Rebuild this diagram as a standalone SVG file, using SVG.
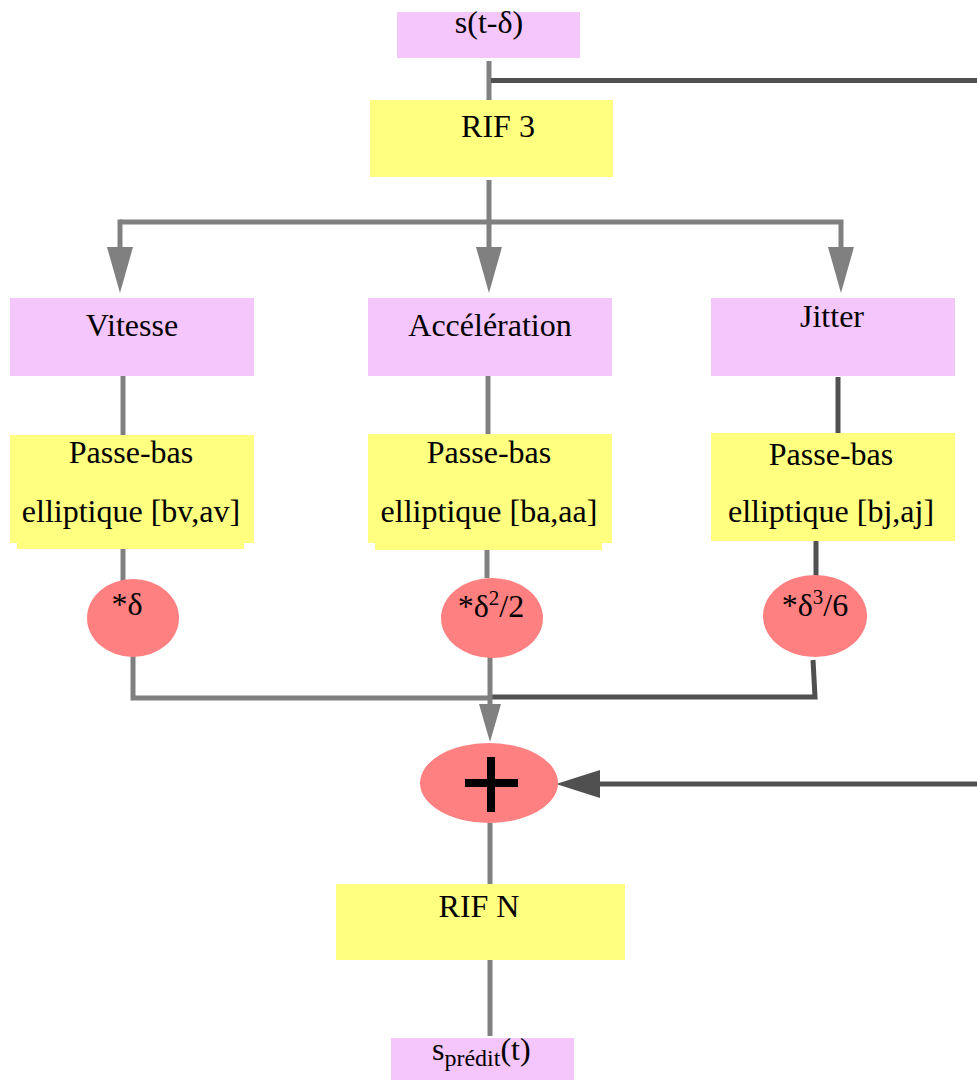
<svg xmlns="http://www.w3.org/2000/svg" width="977" height="1080" viewBox="0 0 977 1080">
<style>
.t{font-family:"Liberation Serif","Times New Roman",serif;font-size:32px;fill:#000;text-anchor:middle}
.pink{fill:#f5c6fc}
.yel{fill:#ffff80}
.red{fill:#ff8080}
.g{stroke:#808080;stroke-width:5;fill:none}
.d{stroke:#505050;stroke-width:5;fill:none}
</style>
<defs>
<marker id="ag" markerUnits="userSpaceOnUse" markerWidth="46" markerHeight="26" refX="0" refY="13" orient="auto" viewBox="0 0 46 26"><path d="M0,0 L46,13 L0,26 Z" fill="#808080"/></marker>
<marker id="ag2" markerUnits="userSpaceOnUse" markerWidth="38" markerHeight="22" refX="0" refY="11" orient="auto" viewBox="0 0 38 22"><path d="M0,0 L38,11 L0,22 Z" fill="#808080"/></marker>
<marker id="ad" markerUnits="userSpaceOnUse" markerWidth="44" markerHeight="28" refX="0" refY="14" orient="auto" viewBox="0 0 44 28"><path d="M0,0 L44,14 L0,28 Z" fill="#505050"/></marker>
</defs>
<g id="connectors">
<line class="g" x1="489" y1="61" x2="489" y2="100"/>
<line class="d" x1="491" y1="80.5" x2="977" y2="80.5"/>
<line class="g" x1="489" y1="180" x2="489" y2="247" marker-end="url(#ag)"/>
<polyline class="g" points="120,222 841,222 841,247" marker-end="url(#ag)"/>
<line class="g" x1="120" y1="219.5" x2="120" y2="247" marker-end="url(#ag)"/>
<line class="g" x1="123" y1="373" x2="123" y2="437"/>
<line class="g" x1="488" y1="374" x2="488" y2="434"/>
<line class="d" x1="838" y1="377" x2="838" y2="433"/>
<line class="g" x1="123" y1="541" x2="123" y2="581"/>
<line class="g" x1="487" y1="541" x2="487" y2="578"/>
<line class="d" x1="816" y1="541" x2="816" y2="576"/>
<polyline class="g" points="133,656 133,698 490,698"/>
<polyline class="d" points="813,660 815,697 492,697"/>
<line class="g" x1="490" y1="657" x2="490" y2="704" marker-end="url(#ag2)"/>
<line class="d" x1="977" y1="784" x2="600" y2="784" marker-end="url(#ad)"/>
<line class="g" x1="490" y1="823" x2="490" y2="884"/>
<line class="g" x1="490" y1="960" x2="490" y2="1036"/>
</g>
<g id="n-input">
<rect class="pink" x="397" y="12" width="183" height="46"/>
<text class="t" x="489" y="33">s(t-δ)</text>
</g>
<g id="n-rif3">
<rect class="yel" x="370" y="100" width="243" height="77"/>
<text class="t" x="498" y="137">RIF 3</text>
</g>
<g id="n-vitesse">
<rect class="pink" x="10" y="298" width="244" height="78"/>
<text class="t" x="132" y="336">Vitesse</text>
</g>
<g id="n-acceleration">
<rect class="pink" x="368" y="298" width="244" height="78"/>
<text class="t" x="490" y="336">Accélération</text>
</g>
<g id="n-jitter">
<rect class="pink" x="711" y="298" width="244" height="78"/>
<text class="t" x="832" y="327">Jitter</text>
</g>
<g id="n-pb-v">
<rect class="yel" x="10" y="435" width="244" height="108"/>
<rect class="yel" x="17" y="542" width="227" height="7"/>
<text class="t" x="131" y="463">Passe-bas</text>
<text class="t" x="131" y="522">elliptique [bv,av]</text>
</g>
<g id="n-pb-a">
<rect class="yel" x="368" y="434" width="244" height="109"/>
<rect class="yel" x="375" y="542" width="227" height="8"/>
<text class="t" x="489" y="463">Passe-bas</text>
<text class="t" x="489" y="522">elliptique [ba,aa]</text>
</g>
<g id="n-pb-j">
<rect class="yel" x="711" y="433" width="244" height="108"/>
<text class="t" x="831" y="465">Passe-bas</text>
<text class="t" x="831" y="522">elliptique [bj,aj]</text>
</g>
<g id="n-mul-v">
<ellipse class="red" cx="133" cy="618" rx="46" ry="39"/>
<text class="t" x="127" y="615">*δ</text>
</g>
<g id="n-mul-a">
<ellipse class="red" cx="492" cy="618" rx="51" ry="40"/>
<text class="t" x="491" y="617">*δ<tspan font-size="21" dy="-12">2</tspan><tspan dy="12">/2</tspan></text>
</g>
<g id="n-mul-j">
<ellipse class="red" cx="815" cy="616" rx="52" ry="41"/>
<text class="t" x="815" y="616">*δ<tspan font-size="21" dy="-12">3</tspan><tspan dy="12">/6</tspan></text>
</g>
<g id="n-sum">
<ellipse class="red" cx="489" cy="783" rx="69" ry="40"/>
<path d="M465,783 H518 M491,757 V812" stroke="#000" stroke-width="8" fill="none"/>
</g>
<g id="n-rifn">
<rect class="yel" x="336" y="884" width="289" height="76"/>
<text class="t" x="479" y="917">RIF N</text>
</g>
<g id="n-output">
<rect class="pink" x="391" y="1038" width="183" height="42"/>
<text class="t" x="432" y="1060" style="text-anchor:start">s<tspan font-size="24" dy="6">prédit</tspan><tspan dy="-6">(t)</tspan></text>
</g>
</svg>
